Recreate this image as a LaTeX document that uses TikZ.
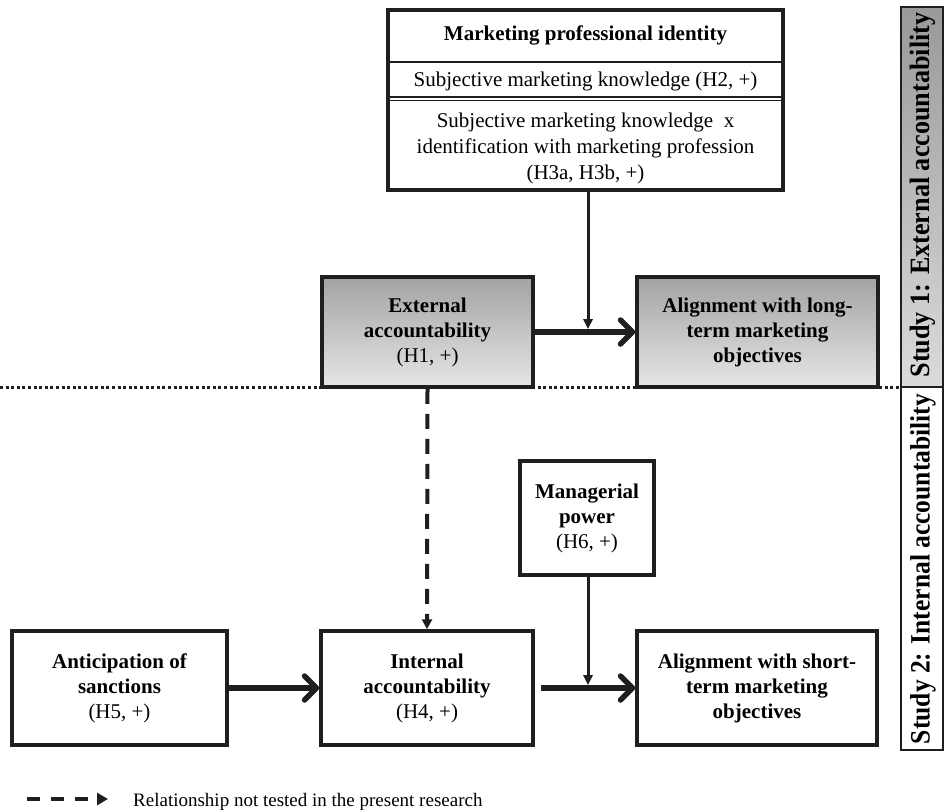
\documentclass[tikz,border=0pt]{standalone}
\usepackage{fontspec}
\setmainfont{Liberation Serif}
\usetikzlibrary{arrows.meta}
\begin{document}
\begin{tikzpicture}[x=1pt,y=-1pt,
  box/.style={draw=black!88, line width=3.5pt, align=center, inner sep=0pt,
    font=\fontsize{21}{25}\selectfont\bfseries},
  graybox/.style={box, top color=black!36, bottom color=black!10},
  plain/.style={align=center, inner sep=0pt, font=\fontsize{21}{26}\selectfont},
  bigarrow/.style={draw=black!88, line width=5.5pt, -{Straight Barb[round, length=12pt, width=24pt]}},
  smallarrow/.style={draw=black!88, line width=3pt, -{Triangle[length=10pt,width=9pt]}},
  dasharrow/.style={draw=black!88, line width=4pt, dash pattern=on 15pt off 10pt, -{Triangle[length=10pt,width=10pt]}},
  legarrow/.style={draw=black!88, line width=4.5pt, dash pattern=on 13pt off 11pt, -{Triangle[length=11pt,width=12pt]}},
  sidetext/.style={rotate=90, inner sep=0pt, font=\fontsize{28}{28}\selectfont\bfseries}
]
\useasboundingbox (0,0) rectangle (944,809);

% dotted separator
\coordinate (dl) at (0,387);
\coordinate (dr) at (901,387);
\draw[black!88, line width=3pt, dash pattern=on 3pt off 2.6pt] (dl) -- (dr);

% side panel
\shade[top color=black!40, bottom color=black!14] (901,7) rectangle (943,387);
\draw[black!88, line width=2pt] (901,7) rectangle (943,750);
\draw[black!88, line width=2pt] (901,387) -- (943,387);
\node[sidetext] (s1) at (923,195) {\resizebox{365pt}{\height}{Study 1: External accountability}};
\node[sidetext] (s2) at (923,569) {\resizebox{350pt}{\height}{Study 2: Internal accountability}};

% top composite box
\node[box, minimum width=395pt, minimum height=180pt] (mpi) at (585.5,100) {};
\draw[black!88, line width=2pt] (388,62) -- (783,62);
\draw[black!88, line width=1.2pt] (388,97) -- (783,97);
\draw[black!88, line width=1.2pt] (388,100.5) -- (783,100.5);
\node[plain, font=\fontsize{21}{26}\selectfont\bfseries] (mpit) at (585.5,35) {Marketing professional identity};
\node[plain] (skn) at (585.5,81) {Subjective marketing knowledge (H2, +)};
\node[plain] (skx) at (585.5,148) {Subjective marketing knowledge\enspace x\\identification with marketing profession\\(H3a, H3b, +)};

% study 1 boxes
\node[graybox, minimum width=211pt, minimum height=110pt] (ext) at (427.5,332)
  {External\\accountability\\\mdseries(H1, +)};
\node[graybox, minimum width=241pt, minimum height=110pt] (lt) at (757.5,332)
  {Alignment with long-\\term marketing\\objectives};

% study 2 boxes
\node[box, fill=white, minimum width=134pt, minimum height=114pt] (mgr) at (587,518)
  {Managerial\\power\\\mdseries(H6, +)};
\node[box, fill=white, minimum width=215pt, minimum height=114pt] (ant) at (119.5,688)
  {Anticipation of\\sanctions\\\mdseries(H5, +)};
\node[box, fill=white, minimum width=212pt, minimum height=114pt] (int) at (427,688)
  {Internal\\accountability\\\mdseries(H4, +)};
\node[box, fill=white, minimum width=240pt, minimum height=114pt] (st) at (757,688)
  {Alignment with short-\\term marketing\\objectives};

% connectors
\draw[bigarrow] (ext) -- (lt);
\coordinate (j1) at (588,332);
\draw[smallarrow, shorten >=2.8pt] (mpi.south -| j1) -- (j1);
\draw[dasharrow] (ext.south) -- (int.north);
\draw[bigarrow] (ant) -- (int);
\draw[bigarrow, shorten <=6pt] (int) -- (st);
\coordinate (j2) at (588,688);
\draw[smallarrow, shorten >=2.8pt] (mgr.south -| j2) -- (j2);

% legend
\coordinate (lg1) at (27,799);
\coordinate (lg2) at (108,799);
\draw[legarrow] (lg1) -- (lg2);
\node[anchor=base west, inner sep=0pt, font=\fontsize{19}{22}\selectfont] (lgt) at (133,806) {Relationship not tested in the present research};
\end{tikzpicture}
\end{document}
